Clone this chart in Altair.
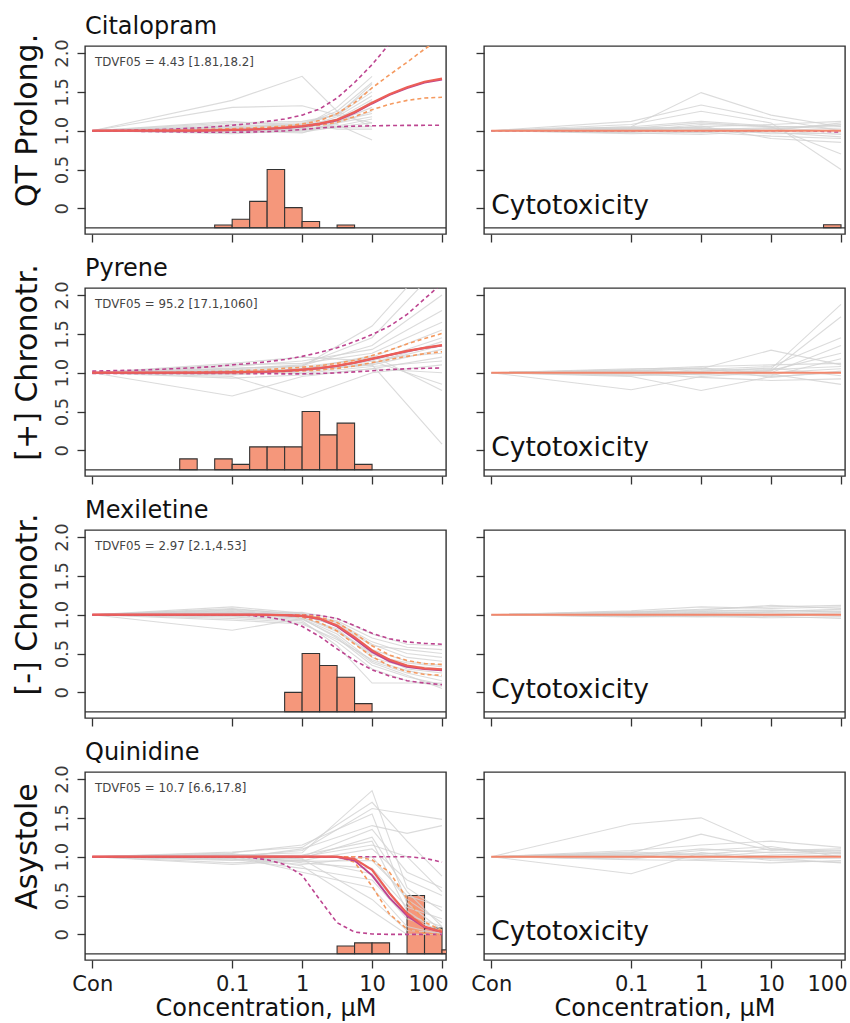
import altair as alt
import pandas as pd

# ---------------- shared axes / text ----------------
GRID = [-3, -2.75, -2.5, -2.25, -2, -1.75, -1.5, -1.25, -1, -0.75, -0.5, -0.25,
        0, 0.25, 0.5, 0.75, 1, 1.25, 1.5, 1.75, 2]
X_TICKS = [-3, -1, 0, 1, 2]
X_LABELS = ["Con", "0.1", "1", "10", "100"]
Y_TICKS = [0, 0.5, 1, 1.5, 2]
Y_LABELS = ["0", "0.5", "1.0", "1.5", "2.0"]
X_DOMAIN = [-3.104, 2.057]
Y_DOMAIN = [-0.33, 2.09]
BASELINE = -0.25
BIN_WIDTH = 0.25

DRUGS = ["Citalopram", "Pyrene", "Mexiletine", "Quinidine"]
ENDPOINTS = ["QT Prolong.", "[+] Chronotr.", "[-] Chronotr.", "Asystole"]
TDVF = ["TDVF05 = 4.43 [1.81,18.2]", "TDVF05 = 95.2 [17.1,1060]",
        "TDVF05 = 2.97 [2.1,4.53]", "TDVF05 = 10.7 [6.6,17.8]"]

# ---------------- Citalopram ----------------
CIT_CONC = [-3, -1, 0, 0.5, 1]
CIT_GRAY = [
    [1, 1.39, 1.70, 1.25, 1.05], [1, 1.30, 1.32, 1.20, 1.10], [1, 1.12, 1.05, 1.30, 1.70],
    [1, 1.05, 1.08, 1.25, 1.62], [1, 1.03, 1.06, 1.22, 1.55], [1, 1.08, 1.10, 1.20, 1.50],
    [1, 1.00, 1.04, 1.18, 1.45], [1, 0.98, 1.02, 1.15, 1.40], [1, 1.04, 1.07, 1.15, 1.35],
    [1, 1.02, 1.03, 1.12, 1.30], [1, 0.97, 1.00, 1.10, 1.25], [1, 1.06, 1.08, 1.12, 1.22],
    [1, 1.01, 1.05, 1.10, 1.18], [1, 0.99, 1.02, 1.06, 1.15], [1, 1.03, 0.98, 1.05, 1.10],
    [1, 0.96, 1.00, 1.04, 1.05], [1, 1.05, 1.00, 1.08, 0.88], [1, 1.02, 1.09, 1.02, 1.02],
    [1, 1.10, 1.12, 1.20, 1.60], [1, 1.00, 0.97, 1.10, 1.38],
]
CIT_RED = [1, 1, 1, 1, 1, 1, 1, 1.005, 1.01, 1.015, 1.025, 1.04, 1.06, 1.09, 1.14, 1.24, 1.36, 1.47, 1.56, 1.63, 1.67]
CIT_PURPLE = [1, 1, 1, 1, 1, 1, 1, 1.004, 1.008, 1.013, 1.022, 1.036, 1.055, 1.085, 1.135, 1.23, 1.35, 1.46, 1.55, 1.62, 1.66]
CIT_PUR_HI = [1, 1, 1.005, 1.01, 1.015, 1.025, 1.035, 1.05, 1.07, 1.09, 1.12, 1.15, 1.2, 1.28, 1.42, 1.62, 1.85, 2.12, 2.4, 2.7, 3.0]
CIT_PUR_LO = [1, 0.998, 0.995, 0.99, 0.988, 0.985, 0.982, 0.98, 0.98, 0.982, 0.988, 0.998, 1.015, 1.035, 1.05, 1.058, 1.063, 1.066, 1.068, 1.069, 1.07]
CIT_ORA_HI = [1, 1, 1, 1.003, 1.006, 1.01, 1.015, 1.02, 1.025, 1.035, 1.045, 1.06, 1.085, 1.13, 1.22, 1.36, 1.55, 1.72, 1.88, 2.05, 2.2]
CIT_ORA_LO = [1, 1, 1, 1, 1.002, 1.005, 1.008, 1.012, 1.016, 1.02, 1.027, 1.035, 1.05, 1.07, 1.11, 1.18, 1.27, 1.34, 1.39, 1.42, 1.43]
CIT_HIST_START = [-1.25, -1.0, -0.75, -0.5, -0.25, 0.0, 0.5]
CIT_HIST_TOP = [-0.215, -0.14, 0.09, 0.5, 0.01, -0.17, -0.215]

# ---------------- Pyrene ----------------
PYR_CONC = [-3, -1, 0, 1, 2]
PYR_GRAY = [
    [1, 0.70, 0.95, 1.05, 1.20], [1, 0.95, 0.68, 1.00, 1.10], [1, 1.02, 1.05, 1.10, 0.08],
    [1, 1.05, 1.10, 1.45, 2.40], [1, 1.03, 1.08, 1.60, 2.60], [1, 1.08, 1.15, 1.30, 1.80],
    [1, 1.10, 1.12, 1.25, 1.65], [1, 1.00, 1.05, 1.20, 1.55], [1, 0.98, 1.02, 1.15, 1.45],
    [1, 1.04, 1.00, 1.12, 1.35], [1, 0.97, 1.03, 1.10, 1.30], [1, 1.06, 1.08, 1.18, 1.25],
    [1, 1.01, 0.99, 1.08, 1.15], [1, 0.93, 0.97, 1.05, 1.00], [1, 1.12, 1.20, 1.15, 0.85],
    [1, 1.02, 1.04, 1.22, 0.77], [1, 0.99, 1.06, 1.12, 1.40], [1, 1.05, 1.09, 1.35, 2.00],
]
PYR_RED = [1, 1, 1, 1, 1, 1, 1, 1.002, 1.005, 1.01, 1.015, 1.025, 1.04, 1.06, 1.09, 1.13, 1.18, 1.23, 1.28, 1.32, 1.355]
PYR_PURPLE = [1, 1, 1, 1, 1, 1, 1, 1.002, 1.004, 1.008, 1.013, 1.022, 1.037, 1.057, 1.087, 1.127, 1.177, 1.227, 1.277, 1.318, 1.35]
PYR_PUR_HI = [1.02, 1.025, 1.03, 1.035, 1.045, 1.055, 1.065, 1.08, 1.1, 1.12, 1.14, 1.17, 1.21, 1.26, 1.32, 1.4, 1.49, 1.6, 1.75, 1.95, 2.15]
PYR_PUR_LO = [0.99, 0.99, 0.99, 0.99, 0.99, 0.99, 0.99, 0.99, 0.99, 0.988, 0.986, 0.985, 0.985, 0.99, 0.998, 1.01, 1.025, 1.04, 1.05, 1.057, 1.06]
PYR_ORA_HI = [1, 1, 1, 1, 1, 1.005, 1.01, 1.015, 1.02, 1.03, 1.04, 1.055, 1.07, 1.09, 1.12, 1.16, 1.22, 1.29, 1.37, 1.44, 1.505]
PYR_ORA_LO = [1, 1, 1, 1, 1, 1, 1, 1, 1, 1.003, 1.007, 1.013, 1.022, 1.035, 1.055, 1.085, 1.13, 1.17, 1.21, 1.245, 1.27]
PYR_HIST_START = [-1.75, -1.25, -1.0, -0.75, -0.5, -0.25, 0.0, 0.25, 0.5, 0.75]
PYR_HIST_TOP = [-0.11, -0.11, -0.18, 0.045, 0.045, 0.045, 0.5, 0.2, 0.35, -0.18]

# ---------------- Mexiletine ----------------
MEX_CONC = [-3, -1, 0, 0.5, 1, 1.5, 2]
MEX_GRAY = [
    [1, 0.80, 0.95, 0.75, 0.40, 0.25, 0.15], [1, 1.08, 1.00, 0.85, 0.55, 0.40, 0.35],
    [1, 1.10, 1.02, 0.90, 0.65, 0.50, 0.45], [1, 1.05, 0.97, 0.80, 0.50, 0.35, 0.30],
    [1, 1.03, 0.95, 0.70, 0.35, 0.20, 0.10], [1, 1.00, 0.98, 0.88, 0.60, 0.55, 0.50],
    [1, 0.97, 0.92, 0.60, 0.12, 0.12, 0.12], [1, 1.02, 1.00, 0.92, 0.70, 0.58, 0.55],
    [1, 0.95, 0.90, 0.65, 0.30, 0.15, 0.08], [1, 1.06, 0.99, 0.86, 0.52, 0.30, 0.25],
    [1, 0.99, 0.96, 0.82, 0.45, 0.32, 0.28], [1, 1.01, 1.03, 0.95, 0.75, 0.62, 0.60],
    [1, 0.93, 0.88, 0.68, 0.42, 0.28, 0.20], [1, 1.04, 0.97, 0.78, 0.48, 0.38, 0.33],
    [1, 0.98, 0.94, 0.72, 0.38, 0.22, 0.05], [1, 1.07, 1.01, 0.90, 0.62, 0.45, 0.40],
]
MEX_RED = [1, 1, 1, 1, 1, 1, 1, 1, 1, 1, 0.998, 0.995, 0.985, 0.95, 0.86, 0.71, 0.54, 0.42, 0.345, 0.31, 0.295]
MEX_PURPLE = [1, 1, 1, 1, 1, 1, 1, 1, 1, 1, 0.998, 0.994, 0.983, 0.945, 0.85, 0.69, 0.52, 0.4, 0.33, 0.3, 0.285]
MEX_PUR_HI = [1, 1, 1, 1, 1, 1, 1, 1, 1, 1, 1, 1, 1, 0.99, 0.95, 0.86, 0.76, 0.69, 0.65, 0.63, 0.62]
MEX_PUR_LO = [1, 1, 1, 1, 1, 1, 1, 1, 1, 0.99, 0.97, 0.93, 0.85, 0.72, 0.56, 0.41, 0.29, 0.21, 0.15, 0.12, 0.10]
MEX_ORA_HI = [1, 1, 1, 1, 1, 1, 1, 1, 1, 1, 1, 1, 1, 0.97, 0.9, 0.76, 0.6, 0.48, 0.41, 0.37, 0.36]
MEX_ORA_LO = [1, 1, 1, 1, 1, 1, 1, 1, 1, 1, 1, 0.995, 0.97, 0.9, 0.79, 0.62, 0.46, 0.34, 0.27, 0.23, 0.22]
MEX_HIST_START = [-0.25, 0.0, 0.25, 0.5, 0.75]
MEX_HIST_TOP = [0.0, 0.5, 0.345, 0.195, -0.145]

# ---------------- Quinidine ----------------
QUI_CONC = [-3, -1, 0, 1, 1.5, 2]
QUI_GRAY = [
    [1, 1.02, 1.05, 1.85, 0.60, 0.30], [1, 1.00, 1.08, 1.62, 1.55, 1.48],
    [1, 0.98, 1.10, 1.40, 1.30, 1.40], [1, 1.05, 1.15, 1.55, 0.40, 0.05],
    [1, 1.03, 1.00, 1.35, 0.80, 0.60], [1, 0.95, 0.98, 1.25, 0.55, 0.10],
    [1, 1.00, 1.02, 1.20, 0.30, 0.00], [1, 0.90, 0.95, 1.10, 0.70, 0.50],
    [1, 0.98, 0.90, 1.00, 0.45, 0.15], [1, 1.04, 0.92, 0.85, 0.35, 0.20],
    [1, 0.97, 0.85, 0.70, 0.20, 0.05], [1, 1.01, 0.80, 0.60, 0.10, 0.00],
    [1, 0.99, 0.97, 0.45, 0.05, 0.02], [1, 1.02, 0.88, 0.30, 0.00, 0.00],
    [1, 0.96, 1.00, 1.15, 1.00, 0.55], [1, 1.06, 1.12, 1.70, 1.20, 0.75],
    [1, 1.00, 0.94, 0.95, 0.50, 0.35], [1, 0.92, 0.96, 0.78, 0.25, 0.10],
]
QUI_RED = [1, 1, 1, 1, 1, 1, 1, 1, 1, 1, 1, 1, 1, 1, 1, 0.97, 0.83, 0.53, 0.27, 0.1, 0.03]
QUI_PURPLE = [1, 1, 1, 1, 1, 1, 1, 1, 1, 1, 1, 1, 1, 1, 0.995, 0.95, 0.76, 0.47, 0.24, 0.09, 0.03]
QUI_PUR_HI = [1, 1, 1, 1, 1, 1, 1, 1, 1, 1, 1, 1, 1, 1, 1, 1, 1, 1, 1, 0.98, 0.93]
QUI_PUR_LO = [1, 1, 1, 1, 1, 1, 1, 1, 1, 0.99, 0.96, 0.9, 0.76, 0.45, 0.15, 0.03, 0.005, 0, 0, 0, 0]
QUI_ORA_HI = [1, 1, 1, 1, 1, 1, 1, 1, 1, 1, 1, 1, 1, 1, 1, 1, 0.96, 0.8, 0.46, 0.16, 0.05]
QUI_ORA_LO = [1, 1, 1, 1, 1, 1, 1, 1, 1, 1, 1, 1, 1, 1, 1, 0.93, 0.62, 0.26, 0.07, 0.015, 0]
QUI_HIST_START = [0.5, 0.75, 1.0, 1.5, 1.75, 2.0]
QUI_HIST_TOP = [-0.15, -0.11, -0.11, 0.5, 0.08, -0.2]

# ---------------- Cytotoxicity panels ----------------
CYTO_CONC = [-3, -1, 0, 1, 2]
CYTO_CIT_GRAY = [
    [1, 1.05, 1.49, 1.20, 1.05], [1, 1.12, 1.33, 1.15, 1.00], [1, 1.08, 1.25, 1.10, 0.50],
    [1, 1.03, 1.10, 1.05, 0.70], [1, 0.98, 1.06, 0.90, 0.85], [1, 1.02, 1.05, 1.08, 1.12],
    [1, 0.97, 0.95, 1.00, 1.10], [1, 1.04, 1.03, 1.02, 1.08], [1, 1.00, 1.08, 1.05, 1.05],
    [1, 0.96, 0.98, 0.93, 0.90], [1, 1.01, 1.02, 1.00, 0.95], [1, 0.99, 0.97, 1.03, 1.00],
    [1, 1.05, 1.12, 1.06, 1.02], [1, 1.02, 0.99, 0.98, 0.92], [1, 0.98, 1.01, 1.04, 1.07],
    [1, 1.03, 1.04, 0.96, 0.97],
]
CYTO_PYR_GRAY = [
    [1, 0.78, 0.95, 1.00, 1.05], [1, 0.95, 0.77, 0.95, 1.00], [1, 1.02, 1.05, 1.29, 1.10],
    [1, 1.00, 1.02, 1.05, 1.88], [1, 1.03, 1.00, 1.02, 1.72], [1, 0.98, 1.04, 1.08, 1.45],
    [1, 1.05, 1.06, 1.00, 1.35], [1, 1.01, 0.97, 1.03, 1.25], [1, 0.97, 0.99, 0.96, 1.18],
    [1, 1.04, 1.08, 1.10, 1.12], [1, 0.99, 0.94, 0.90, 0.92], [1, 1.02, 1.01, 0.98, 0.85],
    [1, 0.96, 0.98, 1.04, 1.08], [1, 1.03, 1.06, 0.94, 1.02], [1, 1.00, 1.02, 1.06, 0.96],
]
CYTO_MEX_GRAY = [
    [1, 1.05, 1.10, 1.08, 1.10], [1, 1.03, 1.07, 1.10, 1.12], [1, 1.02, 1.04, 1.05, 1.06],
    [1, 0.98, 0.97, 0.98, 0.95], [1, 1.00, 1.02, 1.03, 1.04], [1, 0.99, 1.00, 0.99, 1.00],
    [1, 1.04, 1.06, 1.12, 1.08], [1, 0.97, 0.98, 0.96, 0.97], [1, 1.01, 1.03, 1.01, 1.02],
    [1, 1.02, 1.01, 1.04, 1.07], [1, 0.98, 0.99, 1.00, 0.98], [1, 1.03, 1.05, 1.06, 1.03],
]
CYTO_QUI_GRAY = [
    [1, 1.42, 1.50, 1.10, 1.05], [1, 0.78, 1.05, 1.00, 1.02], [1, 1.05, 1.29, 1.08, 1.10],
    [1, 1.08, 1.15, 1.20, 1.12], [1, 1.02, 1.10, 1.05, 1.08], [1, 0.97, 1.05, 0.95, 0.93],
    [1, 1.03, 0.98, 1.02, 1.05], [1, 0.96, 0.95, 0.92, 0.95], [1, 1.00, 1.08, 1.13, 1.00],
    [1, 1.04, 1.02, 0.97, 0.98], [1, 0.99, 1.00, 1.06, 1.04], [1, 1.01, 0.96, 0.98, 0.92],
    [1, 1.06, 1.03, 1.10, 1.07],
]
CYTO_FIT_CIT = [1, 1, 1, 1, 1, 1, 1, 1, 1, 1, 1, 1, 1, 1, 1, 1, 1, 1, 0.998, 0.99, 0.98]
CYTO_FIT_FLAT = [1, 1, 1, 1, 1, 1, 1, 1, 1, 1, 1, 1, 1, 1, 1, 1, 1, 1, 1, 1, 1]
CYTO_CIT_HIST_START = [1.75]
CYTO_CIT_HIST_TOP = [-0.21]

# ---------------- styling ----------------
FONT = "DejaVu Sans"
GRAY = "#d2d2d2"
RED = "#ec5f57"
PURPLE = "#bd4490"
ORANGE = "#f59a60"
BAR = "#f5977b"
INK = "#333333"
PLOT_W = 361
PLOT_H = 188
DRUG_LABEL_Y = 2.24   # just above the panel frame
TDVF_POS = (-2.96, 1.89)
CYTO_POS = (-3.0, -0.07)


def ternary(vals, labels):
    expr = "''"
    for v, lab in reversed(list(zip(vals, labels))):
        expr = f"datum.value == {v} ? '{lab}' : ({expr})"
    return expr


X_EXPR = ternary(X_TICKS, X_LABELS)
Y_EXPR = ternary(Y_TICKS, Y_LABELS)
LAST_X = f"datum.value == {X_TICKS[-1]}"


def gray_df(conc, lines):
    rows = []
    for i, line in enumerate(lines):
        for c, v in zip(conc, line):
            rows.append({"x": c, "y": v, "id": i})
    return pd.DataFrame(rows)


def curve_df(vals):
    return pd.DataFrame({"x": GRID, "y": vals})


def panel(conc, gray, fits, hist_start, hist_top, left, bottom, row):
    xs = alt.Scale(domain=X_DOMAIN, nice=False, zero=False)
    ys = alt.Scale(domain=Y_DOMAIN, nice=False, zero=False)
    xkw = dict(values=X_TICKS, labelExpr=X_EXPR, labels=bottom, grid=False,
               labelFontSize=21, labelPadding=5, labelFlush=False, labelColor="#1a1a1a",
               labelAlign={"condition": {"test": LAST_X, "value": "right"}, "value": "center"},
               labelOffset={"condition": {"test": LAST_X, "value": 6}, "value": 0})
    if bottom:
        xkw.update(title="Concentration, μM", titleFontSize=24, titleFontWeight="normal",
                   titleColor="#111", titlePadding=2)
    else:
        xkw.update(title="")
    ykw = dict(values=Y_TICKS, labelExpr=Y_EXPR, labels=left, grid=False)
    if left:
        ykw.update(title=ENDPOINTS[row], titleFontSize=30, titleFontWeight="normal",
                   titleColor="#111", labelAngle=-90, labelAlign="center",
                   labelBaseline="alphabetic", labelFontSize=18, labelPadding=10,
                   labelColor="#3a3a3a", titlePadding=11, titleY=74, titleAlign="center")
    else:
        ykw.update(title="")
    X = alt.X("x:Q", scale=xs, axis=alt.Axis(**xkw))
    Y = alt.Y("y:Q", scale=ys, axis=alt.Axis(**ykw))

    layers = []
    if hist_start:
        hdf = pd.DataFrame({"x": hist_start, "y": hist_top})
        layers.append(
            alt.Chart(hdf).transform_calculate(
                x2=f"datum.x + {BIN_WIDTH}", y2=f"{BASELINE}"
            ).mark_rect(fill=BAR, stroke=INK, strokeWidth=1.1, clip=True).encode(
                x=X, x2="x2:Q", y=Y, y2="y2:Q")
        )
    layers.append(
        alt.Chart(pd.DataFrame({"y": [BASELINE]})).mark_rule(color=INK, strokeWidth=1.3)
        .encode(y=Y)
    )
    layers.append(
        alt.Chart(gray_df(conc, gray)).mark_line(color=GRAY, strokeWidth=1.1, opacity=0.8, clip=True)
        .encode(x=X, y=Y, detail="id:N")
    )
    for vals, color, dash, w in fits:
        kw = dict(color=color, strokeWidth=w, clip=True)
        if dash:
            kw["strokeDash"] = [4, 3]
        layers.append(alt.Chart(curve_df(vals)).mark_line(**kw).encode(x=X, y=Y))

    if left:
        layers.append(
            alt.Chart(pd.DataFrame({"x": [TDVF_POS[0]], "y": [TDVF_POS[1]], "t": [TDVF[row]]}))
            .mark_text(align="left", baseline="middle", fontSize=11.8, color="#444", font=FONT)
            .encode(x=X, y=Y, text="t:N")
        )
        layers.append(
            alt.Chart(pd.DataFrame({"x": [X_DOMAIN[0]], "y": [DRUG_LABEL_Y], "t": [DRUGS[row]]}))
            .mark_text(align="left", baseline="alphabetic", fontSize=24, color="#111", font=FONT)
            .encode(x=X, y=Y, text="t:N")
        )
    else:
        layers.append(
            alt.Chart(pd.DataFrame({"x": [CYTO_POS[0]], "y": [CYTO_POS[1]], "t": ["Cytotoxicity"]}))
            .mark_text(align="left", baseline="alphabetic", fontSize=26.5, color="#111", font=FONT)
            .encode(x=X, y=Y, text="t:N")
        )

    return alt.layer(*layers).properties(width=PLOT_W, height=PLOT_H)


def fitset(red, purple, phi, plo, ohi, olo):
    return [
        (plo, PURPLE, True, 1.6), (phi, PURPLE, True, 1.6),
        (olo, ORANGE, True, 1.6), (ohi, ORANGE, True, 1.6),
        (purple, PURPLE, False, 2), (red, RED, False, 2.2),
    ]


LEFT = [
    (CIT_CONC, CIT_GRAY, fitset(CIT_RED, CIT_PURPLE, CIT_PUR_HI, CIT_PUR_LO, CIT_ORA_HI, CIT_ORA_LO), CIT_HIST_START, CIT_HIST_TOP),
    (PYR_CONC, PYR_GRAY, fitset(PYR_RED, PYR_PURPLE, PYR_PUR_HI, PYR_PUR_LO, PYR_ORA_HI, PYR_ORA_LO), PYR_HIST_START, PYR_HIST_TOP),
    (MEX_CONC, MEX_GRAY, fitset(MEX_RED, MEX_PURPLE, MEX_PUR_HI, MEX_PUR_LO, MEX_ORA_HI, MEX_ORA_LO), MEX_HIST_START, MEX_HIST_TOP),
    (QUI_CONC, QUI_GRAY, fitset(QUI_RED, QUI_PURPLE, QUI_PUR_HI, QUI_PUR_LO, QUI_ORA_HI, QUI_ORA_LO), QUI_HIST_START, QUI_HIST_TOP),
]
CYTO_ORANGE = "#f2876c"
RIGHT = [
    (CYTO_CONC, CYTO_CIT_GRAY, [(CYTO_FIT_CIT, PURPLE, True, 1.5), (CYTO_FIT_FLAT, CYTO_ORANGE, False, 2)], CYTO_CIT_HIST_START, CYTO_CIT_HIST_TOP),
    (CYTO_CONC, CYTO_PYR_GRAY, [(CYTO_FIT_FLAT, CYTO_ORANGE, False, 2)], [], []),
    (CYTO_CONC, CYTO_MEX_GRAY, [(CYTO_FIT_FLAT, CYTO_ORANGE, False, 2)], [], []),
    (CYTO_CONC, CYTO_QUI_GRAY, [(CYTO_FIT_FLAT, CYTO_ORANGE, False, 2)], [], []),
]

panels = []
for r in range(4):
    panels.append(panel(*LEFT[r], left=True, bottom=(r == 3), row=r))
    panels.append(panel(*RIGHT[r], left=False, bottom=(r == 3), row=r))

chart = alt.concat(
    *panels, columns=2, spacing=alt.RowColnumber(row=54, column=38), bounds="flush"
).properties(
    padding={"left": 11, "top": 14, "right": 0, "bottom": 0}
).configure_view(
    stroke=INK, strokeWidth=1.4
).configure_axis(
    domain=False, tickColor=INK, tickSize=8, tickWidth=1.3,
    labelFont=FONT, titleFont=FONT
).configure_text(font=FONT)

chart.save("out.html", embed_options={"renderer": "svg", "actions": False})
